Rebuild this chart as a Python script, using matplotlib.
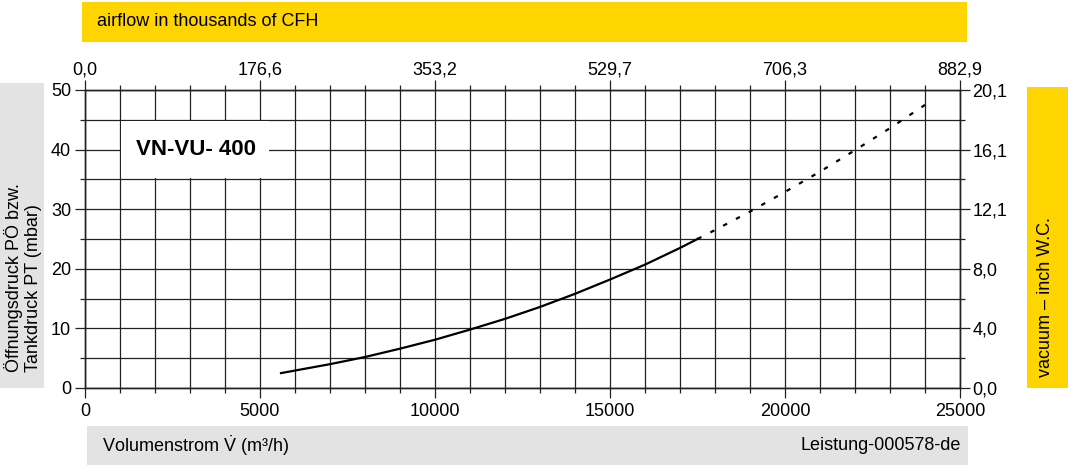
import numpy as np
import matplotlib.pyplot as plt
from matplotlib.patches import Rectangle
from matplotlib.ticker import MultipleLocator

plt.rcParams['font.family'] = ['Liberation Sans', 'DejaVu Sans']
plt.rcParams['mathtext.fontset'] = 'custom'
plt.rcParams['mathtext.rm'] = 'Liberation Sans'
plt.rcParams['mathtext.it'] = 'Liberation Sans:italic'

# curve (m3/h, mbar)
flow_solid = [5600, 7000, 8000, 9000, 10000, 11000, 12000, 13000, 14000, 15000, 16000, 17000, 17500]
dp_solid = [2.5, 4.0, 5.2, 6.6, 8.1, 9.8, 11.6, 13.6, 15.8, 18.2, 20.7, 23.5, 25.0]
flow_dot = [17500, 18000, 19000, 20000, 21000, 22000, 23000, 24000]
dp_dot = [25.0, 26.5, 29.6, 32.9, 36.3, 39.9, 43.6, 47.5]

x_ticks = [0, 5000, 10000, 15000, 20000, 25000]
cfh_labels = ['0,0', '176,6', '353,2', '529,7', '706,3', '882,9']
y_ticks = [0, 10, 20, 30, 40, 50]
inwc_labels = ['0,0', '4,0', '8,0', '12,1', '16,1', '20,1']

W, H = 1068, 467
my_dpi = 100
yellow = '#FFD500'
grey = '#E3E3E3'
lc = '#222222'

fig = plt.figure(figsize=(W / my_dpi, H / my_dpi), dpi=my_dpi)
ax = fig.add_axes([85 / W, (H - 388) / H, 875 / W, 298 / H])

ax.set_xlim(0, 25000)
ax.set_ylim(0, 50)
ax.xaxis.set_major_locator(MultipleLocator(5000))
ax.xaxis.set_minor_locator(MultipleLocator(1000))
ax.yaxis.set_major_locator(MultipleLocator(10))
ax.yaxis.set_minor_locator(MultipleLocator(5))
ax.set_axisbelow(True)
ax.grid(which='both', color=lc, linewidth=0.9)

ax.tick_params(which='major', length=7, width=0.9, color=lc, labelsize=13, pad=3)
ax.tick_params(axis='x', which='major', pad=4)
ax.tick_params(which='minor', length=3.5, width=0.9, color=lc)
for s in ax.spines.values():
    s.set_color(lc)
    s.set_linewidth(0.9)

# top axis: thousands of CFH
axt = ax.twiny()
axt.set_xlim(ax.get_xlim())
axt.set_xticks(x_ticks)
axt.set_xticklabels(cfh_labels)
axt.xaxis.set_minor_locator(MultipleLocator(1000))
axt.tick_params(which='major', length=7, width=0.9, color=lc, labelsize=13, pad=1)
axt.tick_params(which='minor', length=3.5, width=0.9, color=lc)

# right axis: inch W.C.
axr = ax.twinx()
axr.set_ylim(ax.get_ylim())
axr.set_yticks(y_ticks)
axr.set_yticklabels(inwc_labels)
axr.yaxis.set_minor_locator(MultipleLocator(5))
axr.tick_params(which='major', length=7, width=0.9, color=lc, labelsize=13, pad=2)
axr.tick_params(which='minor', length=3.5, width=0.9, color=lc)
for a in [axt, axr]:
    for s in a.spines.values():
        s.set_color(lc)
        s.set_linewidth(0.9)

# model label box (grid lines around it stay visible)
ax.add_patch(Rectangle((1040, 35.2), 4220, 9.6, facecolor='white', edgecolor='none', zorder=1))
ax.text(1450, 40, 'VN-VU- 400', fontsize=16, fontweight='bold', va='center', ha='left', zorder=2)

ax.plot(flow_solid, dp_solid, color='black', linewidth=1.6, zorder=3)
ax.plot(flow_dot, dp_dot, color='black', linewidth=1.6, dashes=(2, 4.5), zorder=3)

# side bars
fig.patches.append(Rectangle((82 / W, (H - 42) / H), 885 / W, 40 / H, transform=fig.transFigure,
                             facecolor=yellow, edgecolor='none'))
fig.text(97 / W, (H - 22) / H, 'airflow in thousands of CFH', fontsize=13, va='center', ha='left')

fig.patches.append(Rectangle((87 / W, (H - 465) / H), 881 / W, 39 / H, transform=fig.transFigure,
                             facecolor=grey, edgecolor='none'))
fig.text(102 / W, (H - 446) / H, r'Volumenstrom $\dot{\mathrm{V}}$ (m³/h)', fontsize=13, va='center', ha='left')
fig.text(961 / W, (H - 446) / H, 'Leistung-000578-de', fontsize=13, va='center', ha='right')

fig.patches.append(Rectangle((0, (H - 388) / H), 44 / W, 305 / H, transform=fig.transFigure,
                             facecolor=grey, edgecolor='none'))
fig.text(23 / W, (H - 372) / H, 'Öffnungsdruck PÖ bzw.\nTankdruck PT (mbar)', fontsize=13,
         rotation=90, ha='center', va='bottom', multialignment='left', linespacing=1.1)

fig.patches.append(Rectangle((1027 / W, (H - 388) / H), 41 / W, 301 / H, transform=fig.transFigure,
                             facecolor=yellow, edgecolor='none'))
fig.text(1045 / W, (H - 377) / H, 'vacuum – inch W.C.', fontsize=13, rotation=90, ha='center', va='bottom')

plt.savefig('out.png', dpi=my_dpi)
plt.close()
